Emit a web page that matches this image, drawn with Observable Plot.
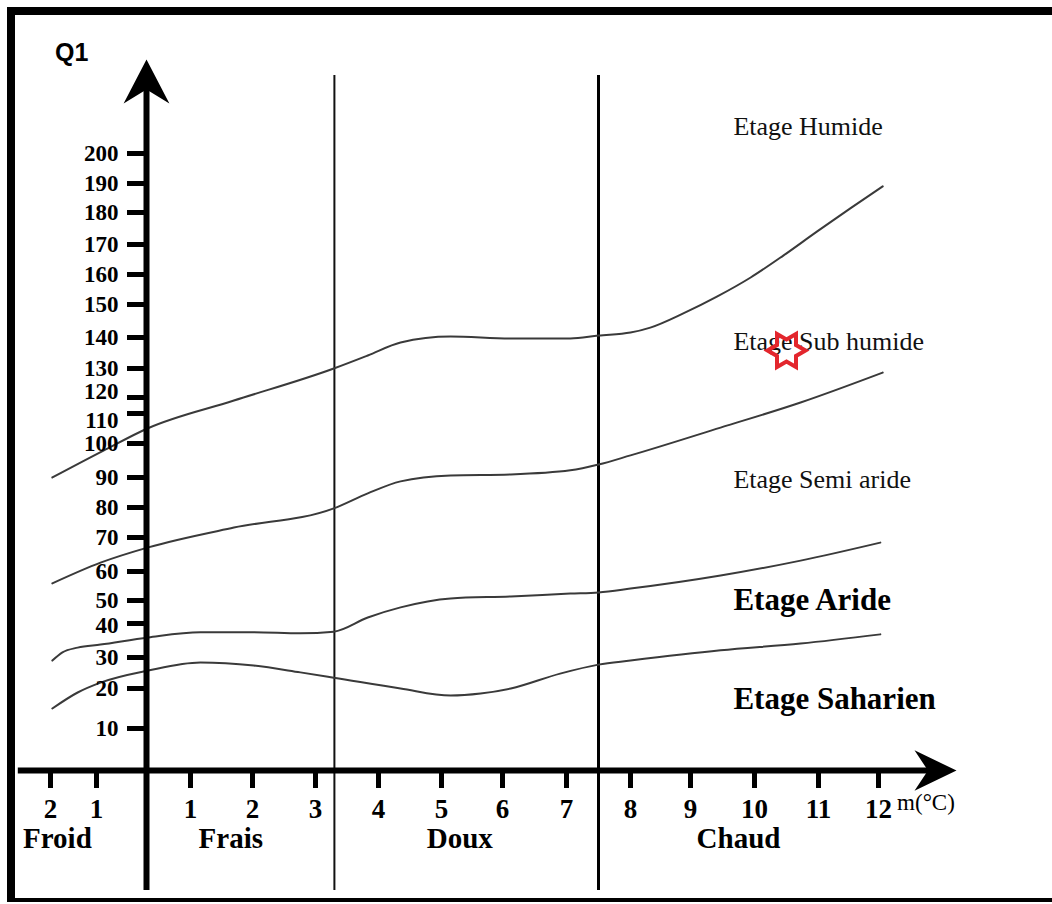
<!DOCTYPE html>
<html>
<head>
<meta charset="utf-8">
<script src="https://cdn.jsdelivr.net/npm/d3@7"></script>
<script src="https://cdn.jsdelivr.net/npm/@observablehq/plot@0.6"></script>
<style>
  html, body { margin: 0; padding: 0; background: #fff; }
  #wrap { position: relative; width: 1052px; height: 904px; overflow: hidden; }
  #border { position: absolute; left: 7px; top: 7px; width: 1100px; height: 895px; box-sizing: border-box;
            border-top: 8px solid #000; border-left: 8px solid #000; border-bottom: 4px solid #000; pointer-events: none; }
</style>
</head>
<body>
<div id="wrap"><div id="chart"></div><div id="border"></div></div>
<script>
// ---- Tick labels ----
const mTicks = [-2, -1, 1, 2, 3, 4, 5, 6, 7, 8, 9, 10, 11, 12];
const qTicks = [10, 20, 30, 40, 50, 60, 70, 80, 90, 100, 110, 120, 130, 140, 150, 160, 170, 180, 190, 200];
// labels that the drawing writes slightly off their tick (crowded graduation)
const qShiftedUp = [120];
const qShiftedDown = [110];
const qShiftedDownLittle = [40];

// ---- Hand-drawn (irregular) graduations: piecewise scale breakpoints ----
const mScaleDomain = [-2, -1, 0, 1, 2, 3, 4, 5, 6, 7, 8, 9, 10, 11, 12];
const mScaleRange  = [50, 96, 146, 190, 252, 315, 378, 441, 502, 566, 630, 690, 754, 818, 878];
const qScaleDomain = [0, 10, 20, 30, 40, 50, 60, 70, 80, 90, 100, 110, 120, 130, 140, 150, 160, 170, 180, 190, 200, 230];
const qScaleRange  = [770, 728, 688, 657, 623, 600, 571, 537, 507, 477, 443, 413, 397, 368, 337, 304, 274, 244, 212, 183, 153, 62];

// ---- Boundary curves (m in °C, Q1) ----
const humideM = [-1.96, -0.86, 0.02, 1.7, 3.29, 3.83, 4.35, 5.15, 6.13, 7.06, 7.5, 8.0, 8.33, 8.88, 9.42, 9.94, 10.45, 10.98, 11.53, 12.07];
const humideQ = [90, 97.9, 105, 118.1, 130, 134.2, 138.4, 140.3, 139.7, 139.7, 140.6, 141.5, 143.0, 147.3, 152.7, 159, 166.3, 174.1, 181.4, 189];

const subHumideM = [-1.96, -0.92, 0.04, 1.7, 3.29, 3.83, 4.35, 5.15, 6.13, 7.06, 7.5, 8.0, 9.47, 10.72, 12.07];
const subHumideQ = [55.9, 62.6, 67.1, 73.3, 79.7, 84.7, 88.7, 90.6, 90.9, 92.1, 93.8, 96.5, 105.3, 116.9, 128.6];

const semiArideM = [-1.96, -1.74, -1.41, -0.92, 0.04, 1.16, 2.02, 2.76, 3.29, 3.83, 4.35, 5.15, 6.13, 7.06, 7.5, 8.0, 9.47, 10.72, 12.03];
const semiArideQ = [29.0, 31.5, 32.9, 33.8, 35.9, 37.4, 37.4, 37.1, 37.6, 42.6, 47.0, 50.7, 51.4, 52.4, 52.8, 54.1, 58.6, 63.2, 68.5];

const arideM = [-1.96, -1.41, -0.92, 0.04, 1.16, 2.02, 2.76, 3.29, 4.35, 5.15, 5.64, 6.13, 6.9, 7.5, 8.0, 9.47, 10.72, 12.03];
const arideQ = [15, 19, 21.9, 25.8, 28.4, 27.4, 25.2, 23.5, 20, 18.25, 18.75, 20, 24.8, 27.7, 29.0, 32.1, 34.1, 36.8];

// ---- Thermal zone separators (m) ----
const separatorsM = [3.3, 7.5];

// ---- Labels ----
const stageNames = ["Etage Humide", "Etage Sub humide", "Etage Semi aride"];
const stageQ = [209, 138.7, 89.4];
const stageBoldNames = ["Etage Aride", "Etage Saharien"];
const stageBoldQ = [50, 17.3];
const stageM = 9.67;

const zoneNames = ["Froid", "Frais", "Doux", "Chaud"];
const zoneM = [-1.85, 1.65, 5.3, 9.75];
const zoneQ = -16.2;

// ---- Station marker (red star) ----
const stationM = [10.5];
const stationQ = [135.8];

// ---- build tables ----
const curves = [
  ["humide", humideM, humideQ],
  ["subhumide", subHumideM, subHumideQ],
  ["semiaride", semiArideM, semiArideQ],
  ["aride", arideM, arideQ]
].flatMap(([name, ms, qs]) => ms.map((m, i) => ({curve: name, m, q: qs[i]})));

const stages = stageNames.map((t, i) => ({t, m: stageM, q: stageQ[i]}));
const stagesBold = stageBoldNames.map((t, i) => ({t, m: stageM, q: stageBoldQ[i]}));
const zones = zoneNames.map((t, i) => ({t, m: zoneM[i], q: zoneQ}));
const stations = stationM.map((m, i) => ({m, q: stationQ[i]}));
const shifted = [...qShiftedUp, ...qShiftedDown, ...qShiftedDownLittle];

// ---- custom symbols ----
const arrowUp = {
  draw(ctx, size) {
    const L = Math.sqrt(size / Math.PI);
    ctx.moveTo(0, 0);
    ctx.lineTo(0.52 * L, L);
    ctx.lineTo(0, 0.68 * L);
    ctx.lineTo(-0.52 * L, L);
    ctx.closePath();
  }
};
const arrowRight = {
  draw(ctx, size) {
    const L = Math.sqrt(size / Math.PI);
    ctx.moveTo(0, 0);
    ctx.lineTo(-L, -0.48 * L);
    ctx.lineTo(-0.68 * L, 0);
    ctx.lineTo(-L, 0.48 * L);
    ctx.closePath();
  }
};
const hexagram = {
  draw(ctx, size) {
    const R = Math.sqrt(size / Math.PI);
    for (let i = 0; i < 12; i++) {
      const a = i * Math.PI / 6;
      const rr = i % 2 === 0 ? R : R / Math.sqrt(3);
      const x = rr * Math.cos(a), y = rr * Math.sin(a);
      if (i === 0) ctx.moveTo(x, y); else ctx.lineTo(x, y);
    }
    ctx.closePath();
  }
};

const serif = "'Liberation Serif', 'Times New Roman', serif";
const yLabelStyle = {x: () => 0, y: d => d, text: d => String(d), textAnchor: "end", dx: -28,
  fontSize: 23, fontWeight: "bold", fontFamily: serif, fill: "#000"};

const chart = Plot.plot({
  width: 1052,
  height: 904,
  marginLeft: 146,
  marginBottom: 134,
  marginTop: 20,
  marginRight: 20,
  style: {fontFamily: serif, background: "transparent", overflow: "visible"},
  x: {type: "linear", domain: mScaleDomain, range: mScaleRange},
  y: {type: "linear", domain: qScaleDomain, range: qScaleRange},
  marks: [
    // separators
    Plot.ruleX([separatorsM[0]], {x: d => d, y1: -28.6, y2: 225.7, stroke: "#111", strokeWidth: 2}),
    Plot.ruleX([separatorsM[1]], {x: d => d, y1: -28.6, y2: 225.7, stroke: "#000", strokeWidth: 3}),
    // curves
    Plot.line(curves, {x: "m", y: "q", z: "curve", stroke: "#3a3a3a", strokeWidth: 2, curve: "monotone-x"}),
    // axes lines
    Plot.ruleX([0], {x: d => d, y1: -28.6, y2: 226, stroke: "#000", strokeWidth: 6}),
    Plot.ruleY([0], {y: d => d, x1: -2.7, x2: 12.9, stroke: "#000", strokeWidth: 6}),
    Plot.dot([{m: 0, q: 231}], {x: "m", y: "q", r: 44, symbol: arrowUp, fill: "#000", stroke: "none"}),
    Plot.dot([{m: 13.3, q: 0}], {x: "m", y: "q", r: 42, symbol: arrowRight, fill: "#000", stroke: "none"}),
    // axes ticks & labels
    Plot.axisY({ticks: qTicks, anchor: "left", tickSize: 19, tickPadding: 9, strokeWidth: 5,
      fontSize: 23, fontWeight: "bold", fontFamily: serif, label: null,
      tickFormat: d => shifted.includes(d) ? "" : String(d)}),
    Plot.text(qShiftedUp, {...yLabelStyle, dy: -6}),
    Plot.text(qShiftedDown, {...yLabelStyle, dy: 7}),
    Plot.text(qShiftedDownLittle, {...yLabelStyle, dy: 2}),
    Plot.axisX({ticks: mTicks, anchor: "bottom", tickSize: 18, tickPadding: 10, strokeWidth: 5,
      fontSize: 27, fontWeight: "bold", fontFamily: serif, label: null, tickFormat: d => String(Math.abs(d))}),
    // axis titles
    Plot.text(["Q1"], {x: () => -1.54, y: () => 233, text: d => d, fontSize: 25, fontWeight: "bold",
      fontFamily: "'Liberation Sans', Arial, sans-serif", fill: "#000"}),
    Plot.text(["m(°C)"], {x: () => 12.31, y: () => -7.6, text: d => d, textAnchor: "start", fontSize: 23, fontFamily: serif, fill: "#000"}),
    // thermal zones
    Plot.text(zones, {x: "m", y: "q", text: "t", fontSize: 29, fontWeight: "bold", fontFamily: serif, fill: "#000"}),
    // bioclimatic stages
    Plot.text(stages, {x: "m", y: "q", text: "t", textAnchor: "start", fontSize: 26, fontFamily: serif, fill: "#111"}),
    Plot.text(stagesBold, {x: "m", y: "q", text: "t", textAnchor: "start", fontSize: 31, fontWeight: "bold", fontFamily: serif, fill: "#000"}),
    // station
    Plot.dot(stations, {x: "m", y: "q", r: 19, symbol: hexagram, stroke: "#e3262d", strokeWidth: 4, fill: "none"})
  ]
});
document.getElementById("chart").appendChild(chart);
</script>
</body>
</html>
